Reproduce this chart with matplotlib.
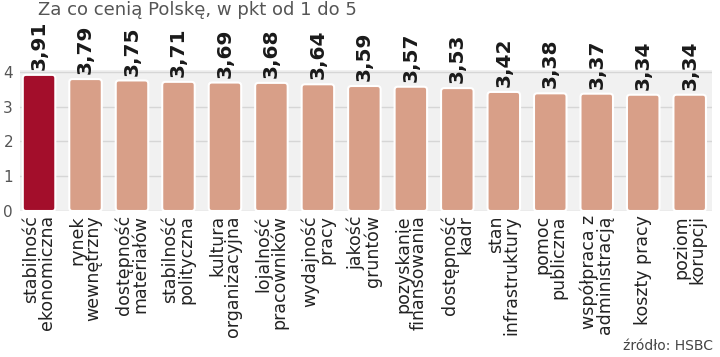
import matplotlib.pyplot as plt
from matplotlib.patches import FancyBboxPatch

# dane z wykresu
kategorie = ['stabilność\nekonomiczna', 'rynek\nwewnętrzny', 'dostępność\nmateriałów',
             'stabilność\npolityczna', 'kultura\norganizacyjna', 'lojalność\npracowników',
             'wydajność\npracy', 'jakość\ngruntów', 'pozyskanie\nfinansowania',
             'dostępność\nkadr', 'stan\ninfrastruktury', 'pomoc\npubliczna',
             'współpraca z\nadministracją', 'koszty pracy', 'poziom\nkorupcji']
wartosci = [3.91, 3.79, 3.75, 3.71, 3.69, 3.68, 3.64, 3.59, 3.57, 3.53, 3.42, 3.38, 3.37, 3.34, 3.34]
podpisy = ['3,91', '3,79', '3,75', '3,71', '3,69', '3,68', '3,64', '3,59', '3,57', '3,53',
           '3,42', '3,38', '3,37', '3,34', '3,34']
osY = [0, 1, 2, 3, 4]

narrow = ['DejaVu Sans Condensed', 'Liberation Sans Narrow', 'DejaVu Sans']

fig = plt.figure(figsize=(7.2, 3.57), dpi=100)
ax = fig.add_axes([20 / 720, 146 / 357, 692 / 720, 141 / 357])
ax.set_facecolor('#f1f1f1')
for s in ax.spines.values():
    s.set_visible(False)

x = list(range(len(wartosci)))
kolory = ['#a30e2b'] + ['#d89f88'] * (len(wartosci) - 1)
bars = ax.bar(x, wartosci, width=0.7, color=kolory, edgecolor='white', linewidth=1.5, zorder=3)

# zaokraglone rogi slupkow
for b in bars:
    p = FancyBboxPatch((b.get_x(), b.get_y()), b.get_width(), b.get_height(),
                       boxstyle='round,pad=0,rounding_size=0.07', mutation_aspect=1.34,
                       facecolor=b.get_facecolor(), edgecolor='white', linewidth=1.5, zorder=3)
    b.remove()
    ax.add_patch(p)

for xi, v, t in zip(x, wartosci, podpisy):
    ax.text(xi, v + 0.14, t, rotation=90, ha='center', va='bottom', fontsize=14.5,
            fontweight='bold', family=narrow, color='#1a1a1a', clip_on=False)

ax.set_xlim(-0.41, 14.48)
ax.set_ylim(0, 4.05)
ax.set_yticks(osY)
ax.set_yticklabels([str(v) for v in osY], fontsize=11, color='#555555')
ax.yaxis.grid(True, color='#d6d6d6', linewidth=1, zorder=0)
ax.tick_params(axis='y', length=0, pad=5)
ax.tick_params(axis='x', length=0, pad=3)
ax.set_xticks(x)
ax.set_xticklabels(kategorie, rotation=90, ha='center', va='top', multialignment='right',
                   fontsize=12.5, family=narrow, color='#222222', linespacing=0.85)

fig.text(38 / 720, 1 - 1 / 357, 'Za co cenią Polskę, w pkt od 1 do 5', ha='left', va='top',
         fontsize=13, color='#555555', family=narrow)
fig.text(713 / 720, 4 / 357, 'źródło: HSBC', ha='right', va='bottom', fontsize=10,
         color='#444444', family=narrow)

plt.savefig('out.png', dpi=100)
